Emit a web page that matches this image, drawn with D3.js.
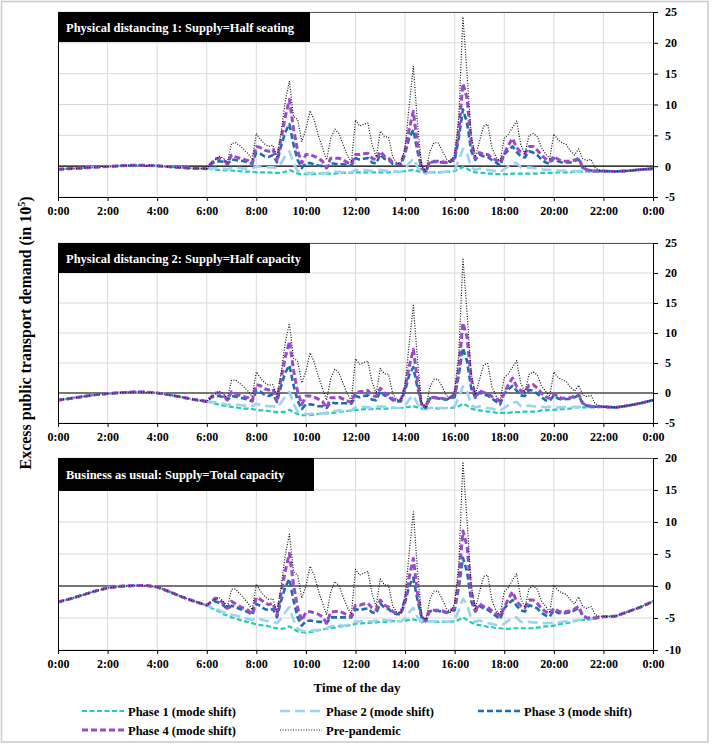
<!DOCTYPE html>
<html><head><meta charset="utf-8">
<script src="https://cdn.jsdelivr.net/npm/d3@7"></script>
<style>
body{margin:0;background:#fff;}
svg{display:block;}
text{font-family:"Liberation Serif","Times New Roman",serif;font-weight:bold;}
</style>
</head><body><svg id="chart" width="712" height="744"></svg>
<script>
// ---------- time grid (hours) ----------
const nightTimes = [0,0.5,1,1.5,2,2.5,3,3.5,4,4.5,5,5.5];
const lateTimes = [22.5,23,23.5,24];
const dayTimes = d3.range(97).map(i => 6 + i/6); // 6:00 .. 22:00 every 10 min
const xTickHours = [0,2,4,6,8,10,12,14,16,18,20,22,24];
const xTickLabels = ["0:00","2:00","4:00","6:00","8:00","10:00","12:00","14:00","16:00","18:00","20:00","22:00","0:00"];

const seriesNames = ["Phase 1 (mode shift)","Phase 2 (mode shift)","Phase 3 (mode shift)","Phase 4 (mode shift)","Pre-pandemic"];
const panelTitles = ["Physical distancing 1: Supply=Half seating","Physical distancing 2: Supply=Half capacity","Business as usual: Supply=Total capacity"];
const yTicks1 = [-5,0,5,10,15,20,25];
const yTicks2 = [-5,0,5,10,15,20,25];
const yTicks3 = [-10,-5,0,5,10,15,20];

// ---------- Panel 1: half seating ----------
const sd1Night = [-0.5,-0.4,-0.3,-0.15,-0.05,0.05,0.15,0.15,0.05,-0.1,-0.25,-0.35];
const sd1Late = [-0.85,-0.75,-0.55,-0.4];
const sd1Phase1 = [-0.4,-0.5,-0.6,-0.6,-0.7,-0.7,-0.7,-0.8,-0.8,-0.9,-0.9,-0.9,-1.0,-1.0,-1.0,-1.0,-1.1,-1.1,-1.1,-0.9,-0.6,-0.9,-1.2,-1.3,-1.3,-1.3,-1.3,-1.2,-1.2,-1.2,-1.2,-1.2,-1.1,-1.1,-1.1,-1.1,-1.0,-1.0,-1.0,-1.0,-1.0,-1.0,-1.0,-1.0,-1.0,-0.9,-0.9,-0.9,-0.8,-0.7,-0.6,-0.8,-1.0,-1.0,-1.0,-1.0,-1.0,-1.0,-0.9,-0.9,-0.8,-0.5,-0.1,-0.4,-0.8,-1.0,-1.1,-1.1,-1.2,-1.2,-1.3,-1.3,-1.3,-1.3,-1.2,-1.2,-1.2,-1.2,-1.2,-1.2,-1.2,-1.1,-1.1,-1.1,-1.1,-1.0,-1.0,-1.0,-1.0,-0.9,-0.9,-0.9,-0.9,-0.9,-0.9,-0.8,-0.8];
const sd1Phase2 = [-0.4,-0.4,-0.3,-0.4,-0.4,-0.5,-0.3,-0.3,-0.3,-0.4,-0.4,-0.4,0.0,-0.1,-0.2,-0.2,-0.2,-0.3,0.5,1.6,2.4,0.5,-0.8,-1.1,-1.1,-1.1,-1.1,-1.2,-1.2,-1.1,-0.9,-0.9,-0.9,-1.0,-1.0,-1.0,-0.6,-0.7,-0.6,-0.7,-0.8,-0.7,-0.6,-0.7,-0.8,-0.8,-0.9,-0.9,-0.5,0.5,1.2,-0.2,-1.1,-1.2,-1.0,-0.9,-0.9,-0.9,-0.9,-0.8,-0.6,1.0,2.8,2.0,-0.2,-0.6,-0.4,-0.5,-0.6,-0.7,-0.8,-0.9,-0.5,0.0,0.4,0.5,-0.2,-0.3,-0.2,-0.3,-0.4,-0.5,-0.6,-0.6,-0.6,-0.7,-0.7,-0.7,-0.8,-0.8,-0.8,-0.8,-0.8,-0.8,-0.8,-0.8,-0.8];
const sd1Phase3 = [-0.4,0.3,0.7,0.8,0.7,0.3,1.1,1.0,0.9,0.8,0.6,0.4,2.2,2.0,1.6,1.5,1.8,0.6,3.3,5.5,6.8,3.5,1.0,-0.3,0.5,0.5,0.3,0.1,0.0,-0.3,0.5,0.4,0.3,0.3,0.2,0.1,1.3,1.1,1.2,1.3,0.6,0.4,1.9,1.2,1.0,0.4,0.2,0.2,2.0,4.6,5.9,2.4,-0.3,-1.0,0.6,0.7,0.7,0.6,0.5,0.8,0.9,4.6,9.2,7.0,2.5,1.0,1.9,1.6,1.5,1.0,0.6,0.1,1.9,2.6,3.2,2.3,1.6,1.4,2.4,2.2,1.8,1.1,0.6,0.4,1.3,0.8,0.6,0.6,0.6,0.8,1.1,-0.3,-0.6,-0.7,-0.8,-0.8,-0.8];
const sd1Phase4 = [-0.4,0.4,1.2,1.3,1.0,0.4,1.8,1.5,1.3,1.1,0.9,0.5,3.2,3.0,2.6,2.4,2.7,1.0,4.5,8.0,10.8,6.0,2.5,0.5,1.9,1.9,1.6,1.3,0.8,-0.3,1.3,1.3,1.3,1.0,0.6,0.3,1.9,1.9,2.0,2.1,1.3,1.0,2.4,1.6,1.3,0.6,0.3,0.5,2.5,6.0,8.9,3.5,-0.3,-0.8,0.7,0.8,0.8,0.7,0.6,0.9,1.3,5.7,13.4,11.0,4.0,1.2,2.2,1.9,1.9,1.3,1.0,0.6,2.0,3.4,4.5,3.0,2.3,2.0,3.2,3.2,2.6,1.8,1.2,0.8,1.6,1.1,0.8,0.8,0.8,1.0,1.3,-0.2,-0.6,-0.7,-0.8,-0.8,-0.8];
const sd1Pre = [-0.4,0.4,1.0,1.6,1.3,0.6,3.7,3.8,3.3,2.7,2.0,1.2,5.3,4.3,3.6,3.2,3.4,1.5,5.5,10.5,13.8,8.0,7.6,4.0,6.0,9.0,7.5,5.0,3.0,1.0,4.5,6.0,5.3,3.5,1.8,0.6,7.5,6.5,6.8,7.0,3.5,1.5,5.7,4.8,4.7,1.5,0.5,0.4,3.0,9.8,16.2,7.0,0.0,-0.8,2.4,3.8,3.8,2.5,1.2,0.6,2.0,8.0,24.2,15.0,5.0,1.5,4.0,6.5,6.8,3.0,1.5,0.8,4.5,5.2,6.3,7.3,3.5,2.0,5.0,5.3,4.8,3.0,2.0,1.2,5.2,4.3,3.8,3.5,2.5,1.8,2.8,1.2,0.9,1.1,-0.3,-0.6,-0.8];

// ---------- Panel 2: half capacity ----------
const sd2Night = [-1.2,-0.9,-0.6,-0.3,-0.1,0.05,0.15,0.15,0.0,-0.3,-0.7,-1.1];
const sd2Late = [-2.4,-2.1,-1.7,-1.2];
const sd2Phase1 = [-1.4,-1.6,-1.8,-1.9,-2.1,-2.2,-2.3,-2.4,-2.5,-2.6,-2.6,-2.7,-2.8,-2.9,-2.9,-3.0,-3.1,-3.2,-3.2,-3.1,-2.8,-3.2,-3.5,-3.7,-3.7,-3.7,-3.6,-3.5,-3.4,-3.4,-3.3,-3.3,-3.1,-3.1,-3.0,-3.0,-2.8,-2.8,-2.7,-2.7,-2.7,-2.6,-2.6,-2.6,-2.6,-2.5,-2.5,-2.5,-2.4,-2.3,-2.2,-2.4,-2.6,-2.5,-2.5,-2.5,-2.6,-2.6,-2.5,-2.5,-2.4,-2.2,-1.8,-2.1,-2.6,-2.8,-2.9,-3.0,-3.1,-3.1,-3.3,-3.3,-3.3,-3.3,-3.2,-3.2,-3.2,-3.1,-3.1,-3.1,-3.1,-2.9,-2.9,-2.8,-2.8,-2.7,-2.7,-2.6,-2.6,-2.4,-2.4,-2.4,-2.4,-2.4,-2.4,-2.3,-2.3];
const sd2Phase2 = [-1.4,-1.5,-1.5,-1.7,-1.8,-2.0,-1.9,-1.9,-2.0,-2.1,-2.1,-2.2,-1.8,-2.0,-2.1,-2.2,-2.2,-2.4,-1.6,-0.6,0.2,-1.8,-3.1,-3.5,-3.5,-3.5,-3.4,-3.5,-3.4,-3.3,-3.0,-3.0,-2.9,-3.0,-2.9,-2.9,-2.4,-2.5,-2.3,-2.4,-2.5,-2.3,-2.2,-2.3,-2.4,-2.4,-2.5,-2.5,-2.1,-1.1,-0.4,-1.8,-2.7,-2.7,-2.5,-2.4,-2.5,-2.5,-2.5,-2.4,-2.2,-0.7,1.1,0.3,-2.0,-2.4,-2.2,-2.4,-2.5,-2.6,-2.8,-2.9,-2.5,-2.0,-1.6,-1.5,-2.2,-2.2,-2.1,-2.2,-2.3,-2.3,-2.4,-2.3,-2.3,-2.4,-2.4,-2.3,-2.4,-2.3,-2.3,-2.3,-2.3,-2.3,-2.3,-2.3,-2.3];
const sd2Phase3 = [-1.4,-0.8,-0.5,-0.5,-0.7,-1.2,-0.5,-0.6,-0.8,-0.9,-1.1,-1.4,0.4,0.2,-0.3,-0.5,-0.2,-1.5,1.2,3.4,4.6,1.3,-1.3,-2.7,-1.9,-1.9,-2.0,-2.2,-2.2,-2.5,-1.6,-1.7,-1.7,-1.7,-1.7,-1.8,-0.5,-0.7,-0.5,-0.4,-1.1,-1.2,0.3,-0.4,-0.6,-1.2,-1.4,-1.4,0.4,3.0,4.3,0.9,-1.9,-2.5,-0.9,-0.8,-0.9,-1.0,-1.1,-0.8,-0.7,3.0,7.5,5.3,0.8,-0.8,0.1,-0.3,-0.4,-0.9,-1.4,-1.9,-0.1,0.6,1.2,0.4,-0.4,-0.5,0.5,0.4,-0.1,-0.7,-1.2,-1.3,-0.4,-0.9,-1.1,-1.0,-1.0,-0.7,-0.4,-1.8,-2.1,-2.2,-2.3,-2.3,-2.3];
const sd2Phase4 = [-1.4,-0.7,0.0,0.0,-0.4,-1.1,0.2,-0.1,-0.4,-0.6,-0.8,-1.3,1.4,1.2,0.7,0.5,0.7,-1.1,2.4,5.9,8.6,3.8,0.2,-1.9,-0.5,-0.5,-0.7,-1.0,-1.4,-2.5,-0.8,-0.8,-0.7,-1.0,-1.3,-1.6,0.1,0.2,0.3,0.4,-0.4,-0.6,0.8,0.0,-0.3,-1.0,-1.3,-1.1,0.9,4.4,7.3,2.0,-1.9,-2.3,-0.8,-0.7,-0.8,-0.9,-1.0,-0.7,-0.3,4.1,11.7,9.3,2.3,-0.6,0.4,0.1,0.0,-0.6,-1.0,-1.4,0.0,1.4,2.5,1.1,0.4,0.1,1.3,1.4,0.8,0.0,-0.6,-0.9,-0.1,-0.6,-0.9,-0.8,-0.8,-0.5,-0.2,-1.7,-2.1,-2.2,-2.3,-2.3,-2.3];
const sd2Pre = [-1.4,-0.7,-0.2,0.3,-0.1,-0.9,2.1,2.2,1.6,1.0,0.3,-0.6,3.5,2.5,1.7,1.3,1.4,-0.6,3.4,8.4,11.6,5.8,5.3,1.7,3.6,6.7,5.2,2.8,0.8,-1.2,2.4,4.0,3.3,1.6,-0.1,-1.3,5.7,4.8,5.1,5.3,1.9,-0.1,4.1,3.2,3.1,-0.1,-1.1,-1.2,1.4,8.2,14.6,5.5,-1.6,-2.3,0.9,2.3,2.3,1.0,-0.4,-1.0,0.4,6.4,22.5,13.3,3.3,-0.3,2.2,4.7,4.9,1.1,-0.5,-1.2,2.5,3.2,4.3,5.4,1.6,0.1,3.1,3.5,3.0,1.2,0.3,-0.5,3.5,2.6,2.2,1.9,1.0,0.3,1.3,-0.3,-0.6,-0.4,-1.8,-2.1,-2.3];

// ---------- Panel 3: total capacity ----------
const sd3Night = [-2.5,-2.0,-1.4,-0.8,-0.3,-0.05,0.05,0.1,-0.15,-0.9,-1.7,-2.4];
const sd3Late = [-4.7,-4.0,-3.3,-2.4];
const sd3Phase1 = [-3.0,-3.4,-3.7,-4.0,-4.4,-4.6,-4.9,-5.1,-5.3,-5.5,-5.6,-5.8,-6.0,-6.1,-6.2,-6.3,-6.5,-6.6,-6.7,-6.6,-6.3,-6.7,-7.1,-7.2,-7.3,-7.2,-7.1,-6.9,-6.8,-6.7,-6.6,-6.5,-6.3,-6.3,-6.2,-6.1,-5.9,-5.9,-5.8,-5.8,-5.7,-5.7,-5.6,-5.6,-5.6,-5.5,-5.5,-5.5,-5.4,-5.3,-5.2,-5.4,-5.6,-5.5,-5.5,-5.6,-5.6,-5.6,-5.6,-5.6,-5.5,-5.3,-4.9,-5.3,-5.7,-6.0,-6.1,-6.2,-6.4,-6.4,-6.6,-6.6,-6.7,-6.7,-6.6,-6.6,-6.6,-6.6,-6.6,-6.6,-6.5,-6.4,-6.3,-6.3,-6.2,-6.0,-5.9,-5.8,-5.7,-5.5,-5.4,-5.3,-5.3,-5.2,-5.1,-4.9,-4.8];
const sd3Phase2 = [-3.0,-3.3,-3.4,-3.8,-4.1,-4.4,-4.5,-4.6,-4.8,-5.0,-5.1,-5.3,-5.0,-5.2,-5.4,-5.5,-5.6,-5.8,-5.1,-4.1,-3.3,-5.3,-6.7,-7.0,-7.1,-7.0,-6.9,-6.9,-6.8,-6.6,-6.3,-6.2,-6.1,-6.2,-6.1,-6.0,-5.5,-5.6,-5.4,-5.5,-5.5,-5.4,-5.2,-5.3,-5.4,-5.4,-5.5,-5.5,-5.1,-4.1,-3.4,-4.8,-5.7,-5.7,-5.5,-5.5,-5.5,-5.5,-5.6,-5.5,-5.3,-3.8,-2.0,-2.9,-5.1,-5.6,-5.4,-5.6,-5.8,-5.9,-6.1,-6.2,-5.9,-5.4,-5.0,-4.9,-5.6,-5.7,-5.6,-5.7,-5.7,-5.8,-5.8,-5.8,-5.7,-5.7,-5.6,-5.5,-5.5,-5.4,-5.3,-5.2,-5.2,-5.1,-5.0,-4.9,-4.8];
const sd3Phase3 = [-3.0,-2.6,-2.4,-2.6,-3.0,-3.6,-3.1,-3.3,-3.6,-3.8,-4.1,-4.5,-2.8,-3.1,-3.6,-3.8,-3.6,-4.9,-2.3,-0.2,1.1,-2.3,-4.9,-6.2,-5.5,-5.4,-5.5,-5.6,-5.6,-5.8,-4.9,-4.9,-4.9,-4.9,-4.9,-4.9,-3.6,-3.8,-3.6,-3.5,-4.1,-4.3,-2.7,-3.4,-3.6,-4.2,-4.4,-4.4,-2.6,0.0,1.3,-2.2,-4.9,-5.5,-3.9,-3.9,-3.9,-4.0,-4.2,-3.9,-3.8,-0.2,4.4,2.2,-2.4,-4.0,-3.1,-3.5,-3.7,-4.2,-4.7,-5.2,-3.5,-2.8,-2.2,-3.1,-3.8,-4.0,-3.0,-3.2,-3.5,-4.2,-4.6,-4.8,-3.8,-4.2,-4.3,-4.2,-4.1,-3.8,-3.4,-4.7,-5.0,-5.0,-5.0,-4.9,-4.8];
const sd3Phase4 = [-3.0,-2.5,-1.9,-2.1,-2.7,-3.5,-2.4,-2.8,-3.2,-3.5,-3.8,-4.4,-1.8,-2.1,-2.6,-2.9,-2.7,-4.5,-1.1,2.3,5.1,0.2,-3.4,-5.4,-4.1,-4.0,-4.2,-4.4,-4.8,-5.8,-4.1,-4.0,-3.9,-4.2,-4.5,-4.7,-3.0,-3.0,-2.8,-2.7,-3.4,-3.7,-2.2,-3.0,-3.3,-4.0,-4.3,-4.1,-2.1,1.4,4.3,-1.1,-4.9,-5.3,-3.8,-3.8,-3.8,-3.9,-4.1,-3.8,-3.4,1.0,8.6,6.2,-0.9,-3.8,-2.8,-3.2,-3.3,-3.9,-4.3,-4.7,-3.4,-2.0,-0.9,-2.4,-3.1,-3.4,-2.2,-2.2,-2.7,-3.5,-4.0,-4.4,-3.5,-3.9,-4.1,-4.0,-3.9,-3.6,-3.2,-4.6,-5.0,-5.0,-5.0,-4.9,-4.8];
const sd3Pre = [-3.0,-2.5,-2.1,-1.8,-2.4,-3.3,-0.5,-0.5,-1.2,-1.9,-2.7,-3.7,0.3,-0.8,-1.6,-2.1,-2.0,-4.0,-0.1,4.8,8.1,2.2,1.7,-1.9,0.0,3.1,1.7,-0.7,-2.6,-4.5,-0.9,0.7,0.1,-1.7,-3.3,-4.4,2.6,1.7,2.0,2.3,-1.2,-3.2,1.1,0.2,0.1,-3.1,-4.1,-4.2,-1.6,5.2,11.6,2.5,-4.6,-5.3,-2.1,-0.8,-0.8,-2.1,-3.5,-4.1,-2.7,3.3,19.4,10.2,0.1,-3.5,-1.0,1.5,1.7,-2.2,-3.8,-4.5,-0.9,-0.2,0.9,1.9,-1.9,-3.4,-0.4,0.0,-0.5,-2.3,-3.2,-4.0,0.1,-0.7,-1.1,-1.3,-2.2,-2.8,-1.7,-3.2,-3.5,-3.2,-4.5,-4.7,-4.8];

// ---------- styles ----------
const seriesStyle = [
  {color:"#22cdb2", width:2.2, dash:"5,2.5"},
  {color:"#9dd2f1", width:2.6, dash:"10,5"},
  {color:"#1b6cb0", width:2.6, dash:"6,3"},
  {color:"#9a4cc8", width:3.0, dash:"6,3"},
  {color:"#111111", width:1.2, dash:"1,1.6"}
];

const panels = [
  {title:panelTitles[0], domain:[-5,25], ticks:yTicks1, top:12, bottom:197, boxW:252, boxH:30, night:sd1Night, late:sd1Late,
   series:[sd1Phase1,sd1Phase2,sd1Phase3,sd1Phase4,sd1Pre]},
  {title:panelTitles[1], domain:[-5,25], ticks:yTicks2, top:243, bottom:423, boxW:252, boxH:30, night:sd2Night, late:sd2Late,
   series:[sd2Phase1,sd2Phase2,sd2Phase3,sd2Phase4,sd2Pre]},
  {title:panelTitles[2], domain:[-10,20], ticks:yTicks3, top:458, bottom:650, boxW:256, boxH:33, night:sd3Night, late:sd3Late,
   series:[sd3Phase1,sd3Phase2,sd3Phase3,sd3Phase4,sd3Pre]}
];

const svg = d3.select("#chart");
const left = 58, right = 653;
const x = d3.scaleLinear().domain([0,24]).range([left,right]);
const times = nightTimes.concat(dayTimes, lateTimes);

svg.append("rect").attr("x",1.5).attr("y",1.5).attr("width",706.5).attr("height",740.5)
  .attr("fill","none").attr("stroke","#c9c9c9").attr("stroke-width",1.5);

panels.forEach((p,pi) => {
  const y = d3.scaleLinear().domain(p.domain).range([p.bottom,p.top]);
  const g = svg.append("g");
  const clipId = "clip"+pi;
  svg.append("clipPath").attr("id",clipId).append("rect")
    .attr("x",left).attr("y",p.top).attr("width",right-left).attr("height",p.bottom-p.top);

  // grid
  g.selectAll(".hg").data(p.ticks).join("line")
    .attr("x1",left).attr("x2",right).attr("y1",d=>y(d)).attr("y2",d=>y(d))
    .attr("stroke","#d9d9d9").attr("stroke-width",1);
  g.selectAll(".vg").data(xTickHours.slice(1,-1)).join("line")
    .attr("x1",d=>x(d)).attr("x2",d=>x(d)).attr("y1",p.top).attr("y2",p.bottom)
    .attr("stroke","#d9d9d9").attr("stroke-width",1);
  // top border
  g.append("line").attr("x1",left).attr("x2",right).attr("y1",p.top+0.5).attr("y2",p.top+0.5)
    .attr("stroke","#595959").attr("stroke-width",1);
  // zero line
  g.append("line").attr("x1",left).attr("x2",right).attr("y1",y(0)).attr("y2",y(0))
    .attr("stroke","#000").attr("stroke-width",1.2);

  // series
  const line = d3.line().x(d=>x(d[0])).y(d=>y(d[1]));
  const lg = g.append("g").attr("clip-path",`url(#${clipId})`);
  p.series.forEach((s,si) => {
    const vals = p.night.concat(s, p.late);
    const pts = times.map((t,i)=>[t, vals[i]]);
    const st = seriesStyle[si];
    lg.append("path").datum(pts).attr("d",line)
      .attr("fill","none").attr("stroke",st.color).attr("stroke-width",st.width)
      .attr("stroke-dasharray",st.dash).attr("stroke-linejoin","round");
  });

  // title box
  g.append("rect").attr("x",left).attr("y",p.top).attr("width",p.boxW).attr("height",p.boxH).attr("fill","#000");
  g.append("text").attr("x",left+8).attr("y",p.top+p.boxH/2+4.5).attr("fill","#fff")
    .attr("font-size",12.5).text(p.title);

  // left border
  g.append("line").attr("x1",left+0.5).attr("x2",left+0.5).attr("y1",p.top).attr("y2",p.bottom).attr("stroke","#000");

  // right axis
  const ay = g.append("g").attr("transform",`translate(${right},0)`)
    .call(d3.axisRight(y).tickValues(p.ticks).tickSize(5).tickSizeOuter(0).tickPadding(7).tickFormat(d=>String(d)));
  ay.selectAll("text").attr("font-size",12).attr("font-family","'Liberation Serif',serif").attr("font-weight","bold").attr("fill","#000");
  ay.selectAll("path,line").attr("stroke","#000");

  // bottom axis
  const ax = g.append("g").attr("transform",`translate(0,${p.bottom})`)
    .call(d3.axisBottom(x).tickValues(xTickHours).tickSize(4).tickSizeOuter(0).tickFormat((d,i)=>xTickLabels[i]).tickPadding(5));
  ax.selectAll("text").attr("font-size",12).attr("font-family","'Liberation Serif',serif").attr("font-weight","bold").attr("fill","#000");
  ax.selectAll("path,line").attr("stroke","#000");
});

// axis titles
const yt = svg.append("text").attr("transform","translate(31,333) rotate(-90)")
  .attr("text-anchor","middle").attr("font-size",16);
yt.append("tspan").text("Excess public transport demand (in 10");
yt.append("tspan").attr("dy",-6).attr("font-size",10).text("5");
yt.append("tspan").attr("dy",6).text(")");

svg.append("text").attr("x",357).attr("y",692).attr("text-anchor","middle").attr("font-size",13).text("Time of the day");

// legend
const legendPos = [[82,711],[280,711],[478,711],[82,730],[280,730]];
seriesNames.forEach((n,i) => {
  const [lx,ly] = legendPos[i];
  const st = seriesStyle[i];
  svg.append("line").attr("x1",lx).attr("x2",lx+42).attr("y1",ly).attr("y2",ly)
    .attr("stroke",st.color).attr("stroke-width",st.width).attr("stroke-dasharray",st.dash);
  svg.append("text").attr("x",lx+46).attr("y",ly+4.5).attr("font-size",12.5).text(n);
});
</script>
</body></html>
